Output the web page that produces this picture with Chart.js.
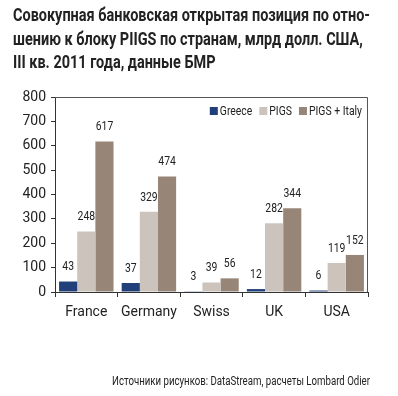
<!DOCTYPE html>
<html lang="ru">
<head>
<meta charset="UTF-8">
<title>Совокупная банковская открытая позиция по отношению к блоку PIIGS</title>
<script src="https://cdn.jsdelivr.net/npm/chart.js"></script>
<style>
  html, body { margin: 0; padding: 0; background: #fff; }
  canvas { display: block; }
</style>
</head>
<body>
<canvas id="chart" width="398" height="396"></canvas>
<script>
// данные с графика (млрд долл. США)
const countries = ['France', 'Germany', 'Swiss', 'UK', 'USA'];
const greece = [43, 37, 3, 12, 6];
const piigs = [248, 329, 39, 282, 119];
const piigsItaly = [617, 474, 56, 344, 152];
const seriesNames = ['Greece', 'PIGS', 'PIGS + Italy'];
const seriesColors = ['#213f78', '#ccc4bc', '#978678'];
const yTicks = [0, 100, 200, 300, 400, 500, 600, 700, 800];

const titleLines = [
  'Совокупная банковская открытая позиция по отно-',
  'шению к блоку PIIGS по странам, млрд долл. США,',
  'III кв. 2011 года, данные БМР'
];
const sourceText = 'Источники рисунков: DataStream, расчеты Lombard Odier';

const FONT = "Roboto, 'Liberation Sans', sans-serif";

// текст со сжатием по горизонтали (в оригинале узкий шрифт)
function narrowText(ctx, text, x, y, sx) {
  ctx.save();
  ctx.translate(x, y);
  ctx.scale(sx, 1);
  ctx.fillText(text, 0, 0);
  ctx.restore();
}

// заголовок и источник
const headerFooter = {
  id: 'headerFooter',
  afterDraw(chart) {
    const ctx = chart.ctx;
    ctx.save();
    ctx.fillStyle = '#222';
    ctx.textBaseline = 'alphabetic';
    ctx.textAlign = 'left';
    ctx.font = 'bold 18px ' + FONT;
    const sx = 357 / ctx.measureText(titleLines[0]).width;
    titleLines.forEach((line, i) => narrowText(ctx, line, 13, 21 + i * 23.5, sx));

    ctx.font = '12px ' + FONT;
    const w = ctx.measureText(sourceText).width;
    const sx2 = 258 / w;
    narrowText(ctx, sourceText, 370 - w * sx2, 385, sx2);
    ctx.restore();
  }
};

// подписи значений над столбцами
const barLabels = {
  id: 'barLabels',
  afterDatasetsDraw(chart) {
    const ctx = chart.ctx;
    ctx.save();
    ctx.font = '13px ' + FONT;
    ctx.fillStyle = '#222';
    ctx.textAlign = 'center';
    ctx.textBaseline = 'bottom';
    chart.data.datasets.forEach((ds, i) => {
      chart.getDatasetMeta(i).data.forEach((bar, j) => {
        ctx.save();
        ctx.translate(bar.x, bar.y - 8);
        ctx.scale(0.8, 1);
        ctx.fillText(ds.data[j], 0, 0);
        ctx.restore();
      });
    });
    ctx.restore();
  }
};

// рамка сверху и справа + легенда внутри области графика
const frameLegend = {
  id: 'frameLegend',
  afterDraw(chart) {
    const { ctx, chartArea: a } = chart;
    ctx.save();
    ctx.strokeStyle = '#555';
    ctx.lineWidth = 1;
    ctx.beginPath();
    ctx.moveTo(a.left, a.top + 0.5);
    ctx.lineTo(a.right - 0.5, a.top + 0.5);
    ctx.lineTo(a.right - 0.5, a.bottom);
    ctx.stroke();

    ctx.font = '13px ' + FONT;
    ctx.textBaseline = 'middle';
    ctx.textAlign = 'left';
    const sx = 0.8;
    const y = a.top + 14;
    const box = 8, gap = 2, spacing = 7;
    const widths = seriesNames.map(n => box + gap + ctx.measureText(n).width * sx);
    let x = a.right - 6 - widths.reduce((s, w) => s + w, 0) - spacing * (seriesNames.length - 1);
    seriesNames.forEach((n, i) => {
      ctx.fillStyle = seriesColors[i];
      ctx.fillRect(x, y - box / 2, box, box);
      ctx.fillStyle = '#222';
      narrowText(ctx, n, x + box + gap, y + 1, sx);
      x += widths[i] + spacing;
    });
    ctx.restore();
  }
};

const datasets = [greece, piigs, piigsItaly].map((d, i) => ({
  label: seriesNames[i],
  data: d,
  backgroundColor: seriesColors[i],
  borderWidth: 0,
  barPercentage: 1,
  categoryPercentage: 0.87
}));

new Chart(document.getElementById('chart').getContext('2d'), {
  type: 'bar',
  data: { labels: countries, datasets: datasets },
  options: {
    responsive: false,
    animation: false,
    layout: { padding: { left: 5, right: 30, top: 97, bottom: 0 } },
    plugins: {
      legend: { display: false },
      tooltip: { enabled: false },
      title: { display: false },
      subtitle: { display: false }
    },
    scales: {
      x: {
        grid: { display: true, drawOnChartArea: false, drawTicks: true, tickLength: 5, color: '#333', offset: true },
        border: { color: '#333', width: 1 },
        ticks: { color: '#222', font: { family: FONT, size: 14 }, padding: 7, maxRotation: 0, autoSkip: false },
        afterFit(scale) { scale.height = 104; }
      },
      y: {
        min: 0,
        max: 800,
        afterBuildTicks(scale) { scale.ticks = yTicks.map(v => ({ value: v })); },
        grid: { display: true, drawOnChartArea: false, drawTicks: true, tickLength: 4, color: '#333' },
        border: { color: '#333', width: 1 },
        ticks: { color: '#222', font: { family: FONT, size: 14 }, padding: 5 },
        afterFit(scale) { scale.width = 50; }
      }
    }
  },
  plugins: [barLabels, frameLegend, headerFooter]
});
</script>
</body>
</html>
